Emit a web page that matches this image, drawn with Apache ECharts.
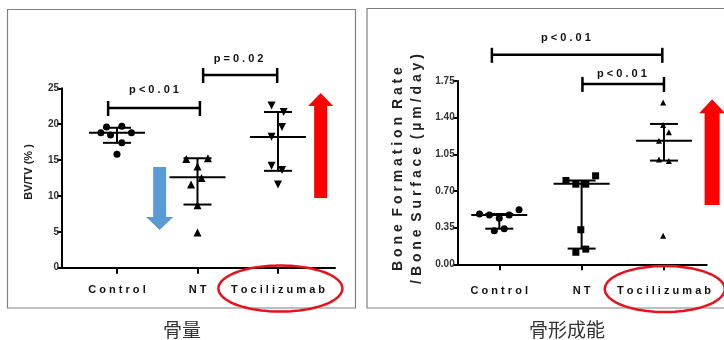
<!DOCTYPE html>
<html><head><meta charset="utf-8">
<script src="https://cdn.jsdelivr.net/npm/echarts@6/dist/echarts.min.js"></script>
<style>html,body{margin:0;padding:0;background:#fff}#c{width:724px;height:340px}</style>
</head><body><div id="c"></div>
<script>
// ---------- data ----------
const categories = ['Control', 'NT', 'Tocilizumab'];
const captions = ['骨量', '骨形成能'];

// Left panel: BV/TV (%)
const bvTicks = [0, 5, 10, 15, 20, 25];
const bvControlX = [-0.2, -0.13, -0.08, 0.06, 0.18, 0.06, 0];
const bvControlY = [18.8, 19.6, 18.5, 19.7, 18.8, 17.4, 15.8];
const bvNTX = [0.86, 1.13, 1.0, 0.92, 1.05, 1.0, 1.0];
const bvNTY = [15.15, 15.25, 14.1, 11.6, 12.5, 8.7, 4.9];
const bvTociX = [1.92, 2.07, 2.05, 1.92, 1.92, 2.05, 2.0];
const bvTociY = [22.6, 21.7, 19.6, 18.25, 14.2, 13.6, 11.6];
const bvMedian = [18.8, 12.6, 18.2];
const bvQ1 = [17.4, 8.8, 13.5];
const bvQ3 = [19.5, 15.25, 21.7];
const bvBracketFrom = [-0.11, 1.07];
const bvBracketTo = [1.03, 1.99];
const bvBracketY = [22.25, 26.85];
const bvBracketText = ['p<0.01', 'p=0.02'];
const bvBracketTextX = [0.46, 1.51];
const bvBracketTextY = [24.75, 29.1];

// Right panel: Bone formation rate / bone surface (µm/day)
const bfrTicks = [0, 0.35, 0.70, 1.05, 1.40, 1.75];
const bfrControlX = [-0.24, -0.12, 0, 0.12, 0.24, -0.06, 0.06];
const bfrControlY = [0.48, 0.47, 0.44, 0.47, 0.52, 0.32, 0.34];
const bfrNTX = [0.81, 0.93, 1.05, 1.17, 0.99, 0.93, 1.05];
const bfrNTY = [0.80, 0.765, 0.765, 0.845, 0.33, 0.115, 0.145];
const bfrTociX = [1.99, 1.99, 2.06, 1.94, 1.94, 2.06, 1.99];
const bfrTociY = [1.544, 1.33, 1.26, 1.18, 1.0, 0.987, 0.273];
const bfrMedian = [0.47, 0.77, 1.18];
const bfrQ1 = [0.34, 0.15, 0.99];
const bfrQ3 = [0.48, 0.80, 1.34];
const bfrBracketFrom = [-0.09, 1.01];
const bfrBracketTo = [1.98, 2.0];
const bfrBracketY = [2.0, 1.722];
const bfrBracketText = ['p<0.01', 'p<0.01'];
const bfrBracketTextX = [0.81, 1.49];
const bfrBracketTextY = [2.16, 1.82];

// Annotation arrows [x, tailY, tipY] and circled label [x, y]
const bvDownArrow = [0.53, 14.03, 5.25];
const bvUpArrow = [2.53, 9.7, 24.34];
const bfrUpArrow = [2.585, 0.566, 1.575];
const bvEllipse = [2.03, -2.9];
const bfrEllipse = [2.01, -0.236];

// ---------- helpers ----------
const FONT = '"Liberation Sans", Arial, sans-serif';
const spaced = s => s.split('').join(' ');
const zip = (xs, ys) => xs.map((x, i) => [x, ys[i]]);

function errorBars(params, api) {
  const x = api.value(0);
  const pm = api.coord([x, api.value(1)]);
  const pl = api.coord([x, api.value(2)]);
  const ph = api.coord([x, api.value(3)]);
  const mw = 28, cw = 14;
  const st = { stroke: '#000', lineWidth: 2 };
  return { type: 'group', children: [
    { type: 'line', shape: { x1: pm[0] - mw, y1: pm[1], x2: pm[0] + mw, y2: pm[1] }, style: st },
    { type: 'line', shape: { x1: pl[0], y1: pl[1], x2: ph[0], y2: ph[1] }, style: st },
    { type: 'line', shape: { x1: pl[0] - cw, y1: pl[1], x2: pl[0] + cw, y2: pl[1] }, style: st },
    { type: 'line', shape: { x1: ph[0] - cw, y1: ph[1], x2: ph[0] + cw, y2: ph[1] }, style: st }
  ]};
}
function bracketMaker(texts) {
  return function (params, api) {
    const a = api.coord([api.value(0), api.value(2)]);
    const b = api.coord([api.value(1), api.value(2)]);
    const t = api.coord([api.value(3), api.value(4)]);
    const st = { stroke: '#000', lineWidth: 2.5 };
    return { type: 'group', children: [
      { type: 'line', shape: { x1: a[0], y1: a[1], x2: b[0], y2: b[1] }, style: st },
      { type: 'line', shape: { x1: a[0], y1: a[1] - 7, x2: a[0], y2: a[1] + 8 }, style: st },
      { type: 'line', shape: { x1: b[0], y1: b[1] - 7, x2: b[0], y2: b[1] + 8 }, style: st },
      { type: 'text', x: t[0], y: t[1], style: { text: spaced(texts[params.dataIndex]), fill: '#111',
        font: 'bold 11px ' + FONT, align: 'center', verticalAlign: 'middle' } }
    ]};
  };
}
function arrowMaker(color, shaftHalf, headHalf, headLen) {
  return function (params, api) {
    const tail = api.coord([api.value(0), api.value(1)]);
    const tip = api.coord([api.value(0), api.value(2)]);
    const dir = tip[1] < tail[1] ? 1 : -1; // 1 = pointing up
    const x = tip[0], hb = tip[1] + dir * headLen;
    return { type: 'polygon', shape: { points: [
      [x - shaftHalf, tail[1]], [x - shaftHalf, hb], [x - headHalf, hb], [x, tip[1]],
      [x + headHalf, hb], [x + shaftHalf, hb], [x + shaftHalf, tail[1]]
    ] }, style: { fill: color } };
  };
}
function ellipseMaker(rx, ry) {
  return function (params, api) {
    const c = api.coord([api.value(0), api.value(1)]);
    const pts = [];
    for (let i = 0; i < 90; i++) {
      const a = i / 90 * Math.PI * 2;
      pts.push([c[0] + rx * Math.cos(a), c[1] + ry * Math.sin(a)]);
    }
    return { type: 'polygon', shape: { points: pts }, style: { fill: 'none', stroke: '#e8101a', lineWidth: 2.5 } };
  };
}
function xAxisFor(grid, min, max, margin) {
  return {
    type: 'value', gridIndex: grid, min: min, max: max,
    axisLine: { show: true, onZero: false, lineStyle: { color: '#000', width: 2 } },
    axisTick: { show: true, customValues: [0, 1, 2], length: 6, lineStyle: { color: '#000', width: 2 } },
    axisLabel: { customValues: [0, 1, 2], margin: margin, color: '#111', fontWeight: 'bold', fontSize: 11, fontFamily: FONT,
      formatter: v => spaced(categories[Math.round(v)]) },
    splitLine: { show: false }
  };
}
function yAxisFor(grid, ticks, fmt) {
  return {
    type: 'value', gridIndex: grid, min: ticks[0], max: ticks[ticks.length - 1], interval: ticks[1] - ticks[0],
    axisLine: { show: true, onZero: false, lineStyle: { color: '#000', width: 2 } },
    axisTick: { show: true, length: 5, lineStyle: { color: '#000', width: 2 } },
    axisLabel: { margin: 3, color: '#333', fontWeight: 'bold', fontSize: 10, fontFamily: FONT, formatter: fmt },
    splitLine: { show: false }
  };
}
function scatter(xi, yi, data, symbol, size, rotate) {
  return { type: 'scatter', xAxisIndex: xi, yAxisIndex: yi, data: data, symbol: symbol, symbolSize: size,
    symbolRotate: rotate || 0, itemStyle: { color: '#000', opacity: 1 }, silent: true, z: 3 };
}
function custom(xi, yi, data, fn, z) {
  return { type: 'custom', xAxisIndex: xi, yAxisIndex: yi, data: data, renderItem: fn, clip: false, silent: true, z: z || 2 };
}

const chart = echarts.init(document.getElementById('c'), null, { renderer: 'canvas' });
chart.setOption({
  animation: false,
  backgroundColor: '#fff',
  grid: [
    { left: 62, top: 88.3, width: 273, height: 179.4 },
    { left: 457.7, top: 81, width: 249, height: 183.3 }
  ],
  xAxis: [ xAxisFor(0, -0.683, 2.708, 17), xAxisFor(1, -0.505, 2.519, 21) ],
  yAxis: [ yAxisFor(0, bvTicks, v => String(v)), yAxisFor(1, bfrTicks, v => v.toFixed(2)) ],
  graphic: [
    { type: 'rect', shape: { x: 7.5, y: 9.5, width: 348, height: 298.5 }, style: { fill: 'none', stroke: '#808080', lineWidth: 1.2 } },
    { type: 'rect', shape: { x: 367, y: 8.5, width: 380, height: 299.5 }, style: { fill: 'none', stroke: '#808080', lineWidth: 1.2 } },
    { type: 'text', x: 29, y: 172, rotation: Math.PI / 2, style: { text: 'BV/TV (% )', fill: '#222',
      font: 'bold 11px ' + FONT, align: 'center', verticalAlign: 'middle' } },
    { type: 'text', x: 407.5, y: 169, rotation: Math.PI / 2, style: {
      text: 'B o n e  F o r m a t i o n  R a t e\n/ B o n e  S u r f a c e  ( µ m / d a y )', fill: '#222',
      font: 'bold 14px ' + FONT, lineHeight: 19, align: 'center', verticalAlign: 'middle' } },
    { type: 'text', x: 182, y: 330, style: { text: captions[0], fill: '#333', font: '19px "Noto Sans CJK JP", sans-serif', align: 'center', verticalAlign: 'middle' } },
    { type: 'text', x: 567, y: 330, style: { text: captions[1], fill: '#333', font: '19px "Noto Sans CJK JP", sans-serif', align: 'center', verticalAlign: 'middle' } }
  ],
  series: [
    custom(0, 0, [0, 1, 2].map(i => [i, bvMedian[i], bvQ1[i], bvQ3[i]]), errorBars),
    scatter(0, 0, zip(bvControlX, bvControlY), 'circle', 7),
    scatter(0, 0, zip(bvNTX, bvNTY), 'triangle', 8),
    scatter(0, 0, zip(bvTociX, bvTociY), 'triangle', 8, 180),
    custom(0, 0, bvBracketFrom.map((f, i) => [f, bvBracketTo[i], bvBracketY[i], bvBracketTextX[i], bvBracketTextY[i]]), bracketMaker(bvBracketText)),
    custom(0, 0, [bvDownArrow], arrowMaker('#5b9bd5', 6.5, 13.5, 13)),
    custom(0, 0, [bvUpArrow], arrowMaker('#fe0000', 6.5, 12.5, 13)),
    custom(0, 0, [bvEllipse], ellipseMaker(62, 23), 5),

    custom(1, 1, [0, 1, 2].map(i => [i, bfrMedian[i], bfrQ1[i], bfrQ3[i]]), errorBars),
    scatter(1, 1, zip(bfrControlX, bfrControlY), 'circle', 7),
    scatter(1, 1, zip(bfrNTX, bfrNTY), 'rect', 7),
    scatter(1, 1, zip(bfrTociX, bfrTociY), 'triangle', 6),
    custom(1, 1, bfrBracketFrom.map((f, i) => [f, bfrBracketTo[i], bfrBracketY[i], bfrBracketTextX[i], bfrBracketTextY[i]]), bracketMaker(bfrBracketText)),
    custom(1, 1, [bfrUpArrow], arrowMaker('#fe0000', 7.5, 13, 14)),
    custom(1, 1, [bfrEllipse], ellipseMaker(60, 23), 5)
  ]
});
</script>
</body></html>
